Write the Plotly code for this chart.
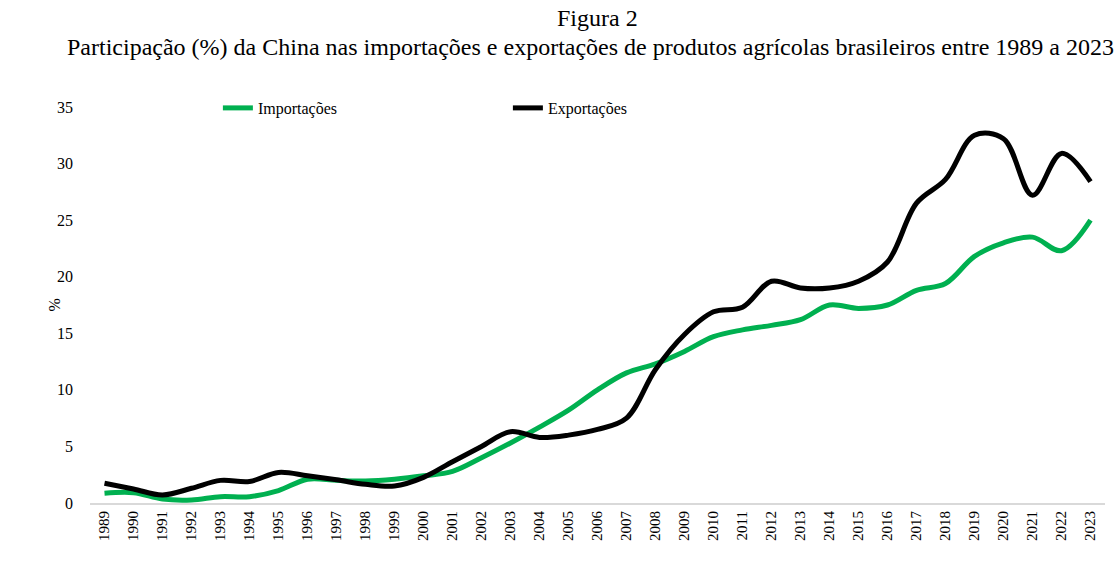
import plotly.graph_objects as go

years = [str(y) for y in range(1989, 2024)]

importacoes = [0.86, 0.91, 0.35, 0.27, 0.56, 0.56, 1.1, 2.1, 2.0, 1.94, 2.1, 2.4, 2.8,
               4.0, 5.3, 6.7, 8.2, 10.0, 11.5, 12.3, 13.4, 14.7, 15.3, 15.7, 16.2, 17.5,
               17.2, 17.5, 18.8, 19.4, 21.8, 23.0, 23.5, 22.3, 25.0]

exportacoes = [1.74, 1.24, 0.71, 1.3, 2.0, 1.9, 2.7, 2.4, 2.05, 1.65, 1.5, 2.27, 3.65,
               5.0, 6.3, 5.8, 6.0, 6.5, 7.5, 11.8, 14.9, 16.9, 17.3, 19.6, 19.0, 19.0,
               19.6, 21.3, 26.5, 28.6, 32.5, 32.2, 27.2, 30.9, 28.4]

y_ticks = [0, 5, 10, 15, 20, 25, 30, 35]

title_line1 = "Figura 2"
title_line2 = ("Participação (%) da China nas importações e exportações de produtos "
               "agrícolas brasileiros entre 1989 a 2023")

serif = "Liberation Serif, Times New Roman, serif"

fig = go.Figure()
fig.add_trace(go.Scatter(
    x=years, y=importacoes, name="Importações", mode="lines",
    line=dict(color="#00B050", width=5, shape="spline", smoothing=1.0),
))
fig.add_trace(go.Scatter(
    x=years, y=exportacoes, name="Exportações", mode="lines",
    line=dict(color="#000000", width=5, shape="spline", smoothing=1.0),
))

fig.update_layout(
    width=1120, height=575,
    margin=dict(l=90, r=15, t=107, b=72),
    paper_bgcolor="white", plot_bgcolor="white",
    font=dict(family=serif, size=16, color="black"),
    showlegend=True,
    legend=dict(
        orientation="h", x=0.126, y=0.9975, xanchor="left", yanchor="middle",
        xref="paper", yref="paper",
        entrywidth=245, entrywidthmode="pixels",
        font=dict(family=serif, size=16, color="black"),
        bgcolor="rgba(0,0,0,0)",
    ),
    xaxis=dict(
        type="category", range=[-0.5, len(years) - 0.5],
        showgrid=False, showline=True, linecolor="#D9D9D9", linewidth=2,
        ticks="", tickangle=-90, automargin=False,
        tickfont=dict(family=serif, size=15, color="black"),
        zeroline=False,
    ),
    yaxis=dict(
        range=[0, 35], tickvals=y_ticks, ticktext=[str(v) for v in y_ticks],
        showgrid=False, showline=False, zeroline=False, ticks="",
        ticklabelstandoff=16, automargin=False,
        tickfont=dict(family=serif, size=16, color="black"),
    ),
    annotations=[
        dict(text=title_line1, xref="paper", yref="paper", x=0.5, y=(503 - 18) / 396,
             xanchor="center", yanchor="middle", showarrow=False,
             font=dict(family=serif, size=24, color="black")),
        dict(text=title_line2, xref="paper", yref="paper", x=0.4935, y=(503 - 47) / 396,
             xanchor="center", yanchor="middle", showarrow=False,
             font=dict(family=serif, size=24, color="black")),
        dict(text="%", xref="paper", yref="paper", x=-0.035, y=(503 - 305) / 396,
             xanchor="center", yanchor="middle",
             showarrow=False, textangle=-90,
             font=dict(family=serif, size=16, color="black")),
    ],
)

fig.write_html("out.html")
